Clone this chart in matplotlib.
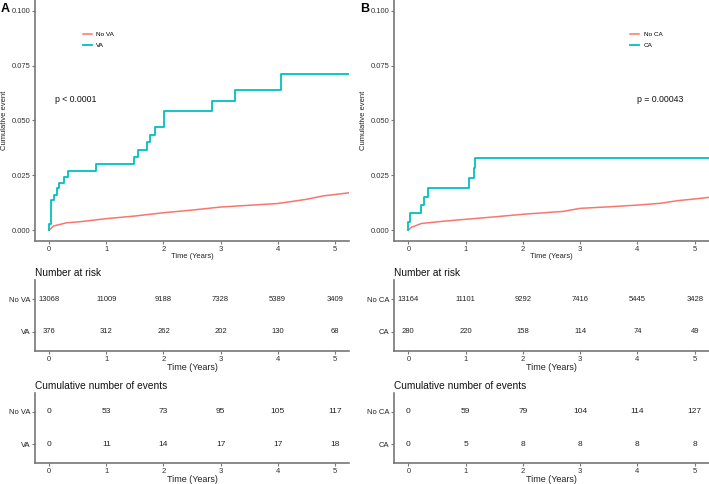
import matplotlib as mpl
import matplotlib.pyplot as plt
import numpy as np

mpl.use("Agg")
plt.rcParams["font.family"] = ["Liberation Sans", "DejaVu Sans"]

# ---- data ----
time_ticks = [0, 1, 2, 3, 4, 5]

# panel A: ventricular arrhythmia
va_step_t = [0, 0.0, 0.03, 0.09, 0.13, 0.175, 0.25, 0.33, 0.82, 1.48, 1.55, 1.71, 1.76, 1.86, 2.01, 2.85, 3.26, 4.06, 5.25]
va_step_y = [0, 0.0027, 0.0138, 0.016, 0.019, 0.0215, 0.024, 0.027, 0.030, 0.0332, 0.0365, 0.040, 0.0436, 0.047, 0.0545, 0.059, 0.0637, 0.0712, 0.0712]
nova_t = [0, 0.07, 0.3, 0.54, 1.0, 1.5, 2.0, 2.5, 3.0, 3.5, 4.0, 4.5, 4.8, 5.0, 5.25]
nova_y = [0, 0.0018, 0.0033, 0.0038, 0.0052, 0.0064, 0.0079, 0.0091, 0.0105, 0.0113, 0.0121, 0.0140, 0.0156, 0.0162, 0.0170]
risk_nova = [13068, 11009, 9188, 7328, 5389, 3409]
risk_va = [376, 312, 262, 202, 130, 68]
events_nova = [0, 53, 73, 95, 105, 117]
events_va = [0, 11, 14, 17, 17, 18]

# panel B: cardiac arrest
ca_step_t = [0, 0.0, 0.03, 0.22, 0.28, 0.34, 1.065, 1.14, 1.16, 5.25]
ca_step_y = [0, 0.0038, 0.0076, 0.0114, 0.0152, 0.019, 0.0236, 0.0282, 0.0327, 0.0327]
noca_t = [0, 0.05, 0.23, 0.6, 1.0, 1.5, 2.0, 2.7, 3.0, 3.5, 4.0, 4.4, 4.7, 5.0, 5.25]
noca_y = [0, 0.0012, 0.003, 0.0040, 0.0049, 0.0060, 0.0072, 0.0085, 0.0099, 0.0106, 0.0114, 0.0122, 0.0134, 0.0142, 0.0149]
risk_noca = [13164, 11101, 9292, 7416, 5445, 3428]
risk_ca = [280, 220, 158, 114, 74, 49]
events_noca = [0, 59, 79, 104, 114, 127]
events_ca = [0, 5, 8, 8, 8, 8]

RED = "#F8766D"
CYAN = "#00BFC4"
AXC = "#777777"
TXT = "#333333"
W, H = 709.0, 484.0


def style_axis(ax):
    for s in ["top", "right"]:
        ax.spines[s].set_visible(False)
    for s in ["left", "bottom"]:
        ax.spines[s].set_color(AXC)
        ax.spines[s].set_linewidth(1.2)
    ax.tick_params(colors=AXC, labelcolor=TXT, labelsize=5.5, length=2.2, width=0.8, pad=1.2)
    ax.set_xlim(-0.25, 5.25)
    ax.set_xticks(time_ticks)


def box(left, top, right, bottom):
    return [left / W, 1 - bottom / H, (right - left) / W, (bottom - top) / H]


def table(ax, row1, row2, labels, title, fsz):
    style_axis(ax)
    ax.set_ylim(0.42, 2.58)
    ax.set_yticks([2, 1])
    ax.set_yticklabels(labels, fontsize=5.5, color="#222222")
    for t, v in zip(time_ticks, row1):
        ax.text(t, 2, str(v), ha="center", va="center", fontsize=fsz, color="#222222")
    for t, v in zip(time_ticks, row2):
        ax.text(t, 1, str(v), ha="center", va="center", fontsize=fsz, color="#222222")
    ax.set_xlabel("Time (Years)", fontsize=6.5, color="#222222", labelpad=0.5)
    ax.set_title(title, loc="left", fontsize=7.3, color="#111111", pad=3)


def panel(x0, x1, letter, t_lo, y_lo, t_hi, y_hi, names, pval, pxy, legxy,
          r1, r2, e1, e2):
    ax = fig.add_axes(box(x0, 0, x1, 241))
    style_axis(ax)
    ax.plot(t_lo, y_lo, color=RED, lw=1.1, label=names[0])
    ax.step(t_hi, y_hi, where="post", color=CYAN, lw=1.3, label=names[1])
    ax.set_ylim(-0.005, 0.105)
    ax.set_yticks([0, 0.025, 0.05, 0.075, 0.1])
    ax.set_yticklabels(["0.000", "0.025", "0.050", "0.075", "0.100"])
    ax.set_ylabel("Cumulative event", fontsize=5.5, color="#222222", labelpad=2.5)
    ax.set_xlabel("Time (Years)", fontsize=5.4, color="#222222", labelpad=0.5)
    ax.text(pxy[0], pxy[1], pval, transform=ax.transAxes, fontsize=6.3,
            color="#111111", va="center", ha="left")
    ax.legend(loc="upper left", bbox_to_anchor=legxy, frameon=False,
              fontsize=4.6, handlelength=1.4, handletextpad=0.7,
              labelspacing=0.8, borderpad=0, borderaxespad=0)
    fig.text((x0 - 34) / W, 1 - 9 / H, letter, fontsize=9, fontweight="bold",
             va="center", ha="left", color="black")

    rt = fig.add_axes(box(x0, 280, x1, 351))
    table(rt, r1, r2, names, "Number at risk", 5.5)
    et = fig.add_axes(box(x0, 393, x1, 463))
    table(et, e1, e2, names, "Cumulative number of events", 6)


fig = plt.figure(figsize=(W / 100, H / 100), dpi=100)

panel(35, 349, "A", nova_t, nova_y, va_step_t, va_step_y, ["No VA", "VA"],
      "p < 0.0001", (0.064, 0.589), (0.152, 0.868),
      risk_nova, risk_va, events_nova, events_va)
panel(394, 709, "B", noca_t, noca_y, ca_step_t, ca_step_y, ["No CA", "CA"],
      "p = 0.00043", (0.771, 0.589), (0.75, 0.868),
      risk_noca, risk_ca, events_noca, events_ca)

fig.savefig("out.png", dpi=100)
